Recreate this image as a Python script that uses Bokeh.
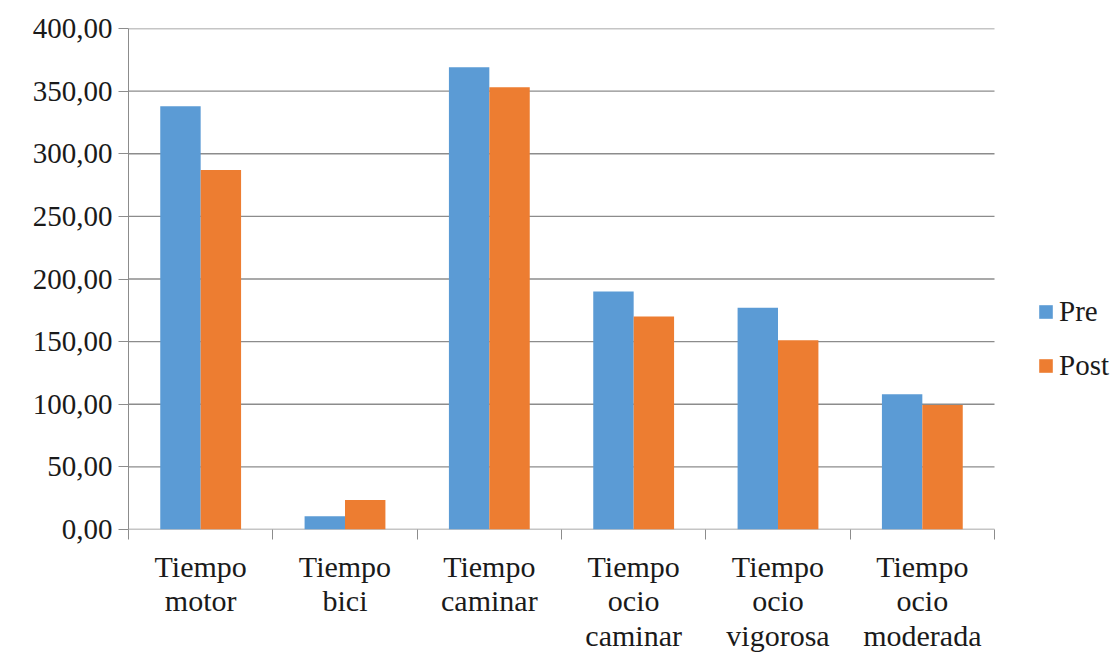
from bokeh.plotting import figure
from bokeh.models import Range1d, FixedTicker, Legend, LegendItem
from bokeh.embed import file_html
from bokeh.resources import INLINE
import numpy as np

# Data
categories = ["Tiempo motor", "Tiempo bici", "Tiempo caminar",
              "Tiempo ocio caminar", "Tiempo ocio vigorosa", "Tiempo ocio moderada"]
category_labels = ["Tiempo\nmotor", "Tiempo\nbici", "Tiempo\ncaminar",
                   "Tiempo\nocio\ncaminar", "Tiempo\nocio\nvigorosa", "Tiempo\nocio\nmoderada"]
pre = [338.0, 10.5, 369.0, 190.0, 177.0, 108.0]
post = [287.0, 23.5, 353.0, 170.0, 151.0, 99.5]
y_ticks = [0, 50, 100, 150, 200, 250, 300, 350, 400]
y_tick_labels = ["0,00", "50,00", "100,00", "150,00", "200,00",
                 "250,00", "300,00", "350,00", "400,00"]
series_names = ["Pre", "Post"]

BLUE = "#5B9BD5"
ORANGE = "#ED7D31"
GRID = "#8C8C8C"
FONT = "Liberation Serif"
TEXT = "#1a1a1a"

n = len(categories)
centers = np.arange(n) + 0.5
bar_w = 0.28

# the plotting frame runs to the right edge so the legend can sit beside the bars;
# the category area itself spans 0..n
W, H = 1119, 655
LEFT, TOP, BOTTOM = 128, 28, 126
cat_px = 866
x_end = n * (W - LEFT) / cat_px

p = figure(width=W, height=H, output_backend="svg", toolbar_location=None,
           x_range=Range1d(0, x_end), y_range=Range1d(0, 400),
           min_border_left=LEFT, min_border_right=0,
           min_border_top=TOP, min_border_bottom=BOTTOM)
p.outline_line_color = None
p.background_fill_color = "white"
p.border_fill_color = "white"
p.xgrid.grid_line_color = None
p.ygrid.grid_line_color = None

# horizontal gridlines (and the baseline) across the category area only
p.segment(x0=[0] * len(y_ticks), x1=[n] * len(y_ticks), y0=y_ticks, y1=y_ticks,
          line_color=GRID, line_width=1.3)

r_pre = p.vbar(x=centers - bar_w / 2, top=pre, width=bar_w, fill_color=BLUE, line_color=None)
r_post = p.vbar(x=centers + bar_w / 2, top=post, width=bar_w, fill_color=ORANGE, line_color=None)

# x axis: labels at category centres, tick marks at category boundaries
xa = p.xaxis[0]
xa.ticker = FixedTicker(ticks=list(centers), minor_ticks=list(range(n + 1)))
xa.major_label_overrides = {float(c): lab for c, lab in zip(centers, category_labels)}
xa.major_tick_line_color = None
xa.major_tick_out = 0
xa.major_tick_in = 0
xa.minor_tick_line_color = GRID
xa.minor_tick_out = 10
xa.minor_tick_in = 0
xa.axis_line_color = None
xa.major_label_text_font = FONT
xa.major_label_text_font_size = "30px"
xa.major_label_text_line_height = 1.06
xa.major_label_text_color = TEXT
xa.major_label_standoff = 10

# y axis
ya = p.yaxis[0]
ya.ticker = FixedTicker(ticks=y_ticks, minor_ticks=[])
ya.major_label_overrides = {t: lab for t, lab in zip(y_ticks, y_tick_labels)}
ya.axis_line_color = GRID
ya.major_tick_line_color = GRID
ya.major_tick_out = 10
ya.major_tick_in = 0
ya.major_label_text_font = FONT
ya.major_label_text_font_size = "29px"
ya.major_label_text_color = TEXT
ya.major_label_standoff = 6

legend = Legend(items=[LegendItem(label=series_names[0], renderers=[r_pre]),
                       LegendItem(label=series_names[1], renderers=[r_post])],
                location=(909, 147), orientation="vertical")
legend.border_line_color = None
legend.background_fill_alpha = 0
legend.padding = 0
legend.margin = 0
legend.spacing = 21
legend.glyph_width = 17
legend.glyph_height = 17
legend.label_standoff = 5
legend.label_text_font = FONT
legend.label_text_font_size = "29px"
legend.label_text_color = TEXT
p.add_layout(legend, "center")

open("out.html", "w").write(file_html(p, INLINE))
